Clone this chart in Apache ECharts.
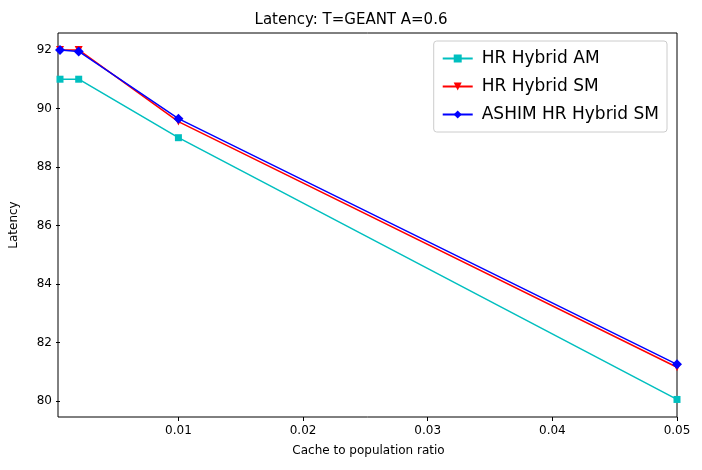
<!DOCTYPE html>
<html><head><meta charset="utf-8">
<script src="https://cdn.jsdelivr.net/npm/echarts@6/dist/echarts.min.js"></script>
<style>html,body{margin:0;padding:0;background:#fff}#c{width:702px;height:470px}</style>
</head><body><div id="c"></div>
<script>
const xs = [0.0005, 0.002, 0.01, 0.05];
const hrAM = [91.0, 91.0, 89.0, 80.05];
const hrSM = [92.0, 92.0, 89.55, 81.15];
const ashim = [92.0, 91.95, 89.65, 81.25];
const xTicks = [0.01, 0.02, 0.03, 0.04, 0.05];
const yTicks = [80, 82, 84, 86, 88, 90, 92];
const f = "DejaVu Sans";
function pts(v){return xs.map((x,i)=>[x,v[i]]);}
function ser(name,data,color,sym,size,rot){
  return {name,type:'line',data:pts(data),symbol:sym,symbolSize:size,symbolRotate:rot||0,
    lineStyle:{color,width:1.5},itemStyle:{color},clip:false,z:3};
}
const chart = echarts.init(document.getElementById('c'));
chart.setOption({
  animation:false,
  title:{text:'Latency: T=GEANT A=0.6',left:'center',top:8,textStyle:{fontFamily:f,fontSize:15,fontWeight:'normal',color:'#000'}},
  grid:{left:58,right:25,top:33,bottom:53},
  legend:{right:35,top:41,orient:'vertical',itemGap:11,itemWidth:30,itemHeight:10,
    borderColor:'#ccc',borderWidth:1,borderRadius:3,padding:[9,8,9,8],backgroundColor:'#fff',
    textStyle:{fontFamily:f,fontSize:17,color:'#000',padding:[0,0,0,4]},
    data:['HR Hybrid AM','HR Hybrid SM','ASHIM HR Hybrid SM']},
  xAxis:{type:'value',min:0.0005,max:0.05,name:'Cache to population ratio',nameLocation:'middle',nameGap:28,
    nameTextStyle:{fontFamily:f,fontSize:12,color:'#000'},
    axisLine:{show:false},splitLine:{show:false},
    axisTick:{show:true,customValues:xTicks,length:4,lineStyle:{color:'#000'}},
    axisLabel:{customValues:xTicks,fontFamily:f,fontSize:12,color:'#000',formatter:v=>String(+v.toFixed(2))}},
  yAxis:{type:'value',min:79.45,max:92.58,name:'Latency',nameLocation:'middle',nameGap:40,
    nameTextStyle:{fontFamily:f,fontSize:12,color:'#000'},
    axisLine:{show:false},splitLine:{show:false},
    axisTick:{show:true,customValues:yTicks,length:4,lineStyle:{color:'#000'}},
    axisLabel:{customValues:yTicks,fontFamily:f,fontSize:12,color:'#000'}},
  graphic:[{type:'rect',shape:{x:58,y:33,width:619,height:384},style:{fill:'none',stroke:'#000',lineWidth:1},z:0,silent:true}],
  series:[
    ser('HR Hybrid AM',hrAM,'#00bfbf','rect',7),
    ser('HR Hybrid SM',hrSM,'#ff0000','triangle',8,180),
    ser('ASHIM HR Hybrid SM',ashim,'#0000ff','diamond',10)
  ]
});
</script></body></html>
